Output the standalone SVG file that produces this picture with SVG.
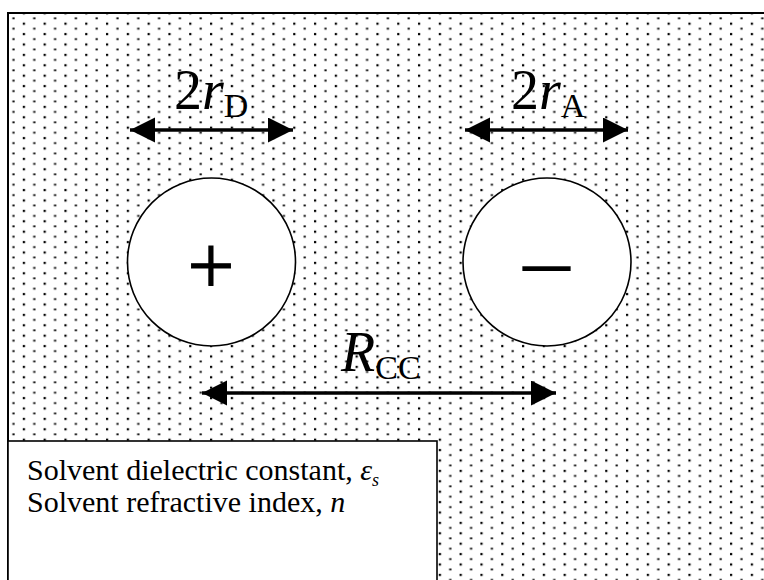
<svg xmlns="http://www.w3.org/2000/svg" width="764" height="580" viewBox="0 0 764 580">
<defs>
<pattern id="dots" x="0" y="0" width="20.8" height="10.4" patternUnits="userSpaceOnUse">
<rect x="2" y="1.8" width="2.2" height="2.2" fill="#000"/>
<rect x="12.4" y="7" width="2.2" height="1.8" fill="#000"/>
</pattern>
<marker id="ah" markerUnits="userSpaceOnUse" markerWidth="26" markerHeight="26" refX="25" refY="12.5" orient="auto-start-reverse">
<path d="M0,0 L25,12.5 L0,25 Z" fill="#000"/>
</marker>
<style>
.ion{fill:#fff;stroke:#000;stroke-width:1.6}
.arr{stroke:#000;stroke-width:3.5;fill:none;marker-start:url(#ah);marker-end:url(#ah)}
.big{font-family:"Liberation Serif","Times New Roman",serif;font-size:56px;fill:#000}
.sub{font-family:"Liberation Serif","Times New Roman",serif;font-size:34px;fill:#000}
.it{font-style:italic}
.sign{font-family:"Liberation Serif","Times New Roman",serif;fill:#000;text-anchor:middle}
.lbl{font-family:"Liberation Serif","Times New Roman",serif;font-size:30px;fill:#000}
</style>
</defs>
<rect x="0" y="0" width="764" height="580" fill="#fff"/>
<g id="solvent">
<rect x="8" y="13" width="760" height="575" fill="url(#dots)"/>
<path d="M8,590 L8,13 L766,13" fill="none" stroke="#000" stroke-width="2"/>
</g>
<g id="donor">
<circle class="ion" cx="211.5" cy="262" r="84"/>
<text class="sign" x="211" y="294" font-size="84" stroke="#000" stroke-width="0.9">+</text>
</g>
<g id="acceptor">
<circle class="ion" cx="547" cy="262" r="84"/>
<text class="sign" x="546.5" y="290" font-size="94">–</text>
</g>
<g id="connectors">
<line class="arr" x1="130" y1="130" x2="293" y2="130"/>
<line class="arr" x1="465" y1="130" x2="628" y2="130"/>
<line class="arr" x1="202" y1="393" x2="556" y2="393"/>
</g>
<g id="labels">
<text x="174" y="109"><tspan class="big">2</tspan><tspan class="big it">r</tspan><tspan class="sub" dy="8">D</tspan></text>
<text x="511" y="109"><tspan class="big">2</tspan><tspan class="big it">r</tspan><tspan class="sub" dy="8">A</tspan></text>
<text x="341" y="371"><tspan class="big it">R</tspan><tspan class="sub" dy="8">CC</tspan></text>
</g>
<g id="legend">
<rect x="8" y="441" width="429" height="150" fill="#fff" stroke="#000" stroke-width="1.6"/>
<text class="lbl" x="27" y="480">Solvent dielectric constant, <tspan class="it">ε</tspan><tspan class="it" font-size="18" dy="6">s</tspan></text>
<text class="lbl" x="27" y="512">Solvent refractive index, <tspan class="it">n</tspan></text>
</g>
</svg>
